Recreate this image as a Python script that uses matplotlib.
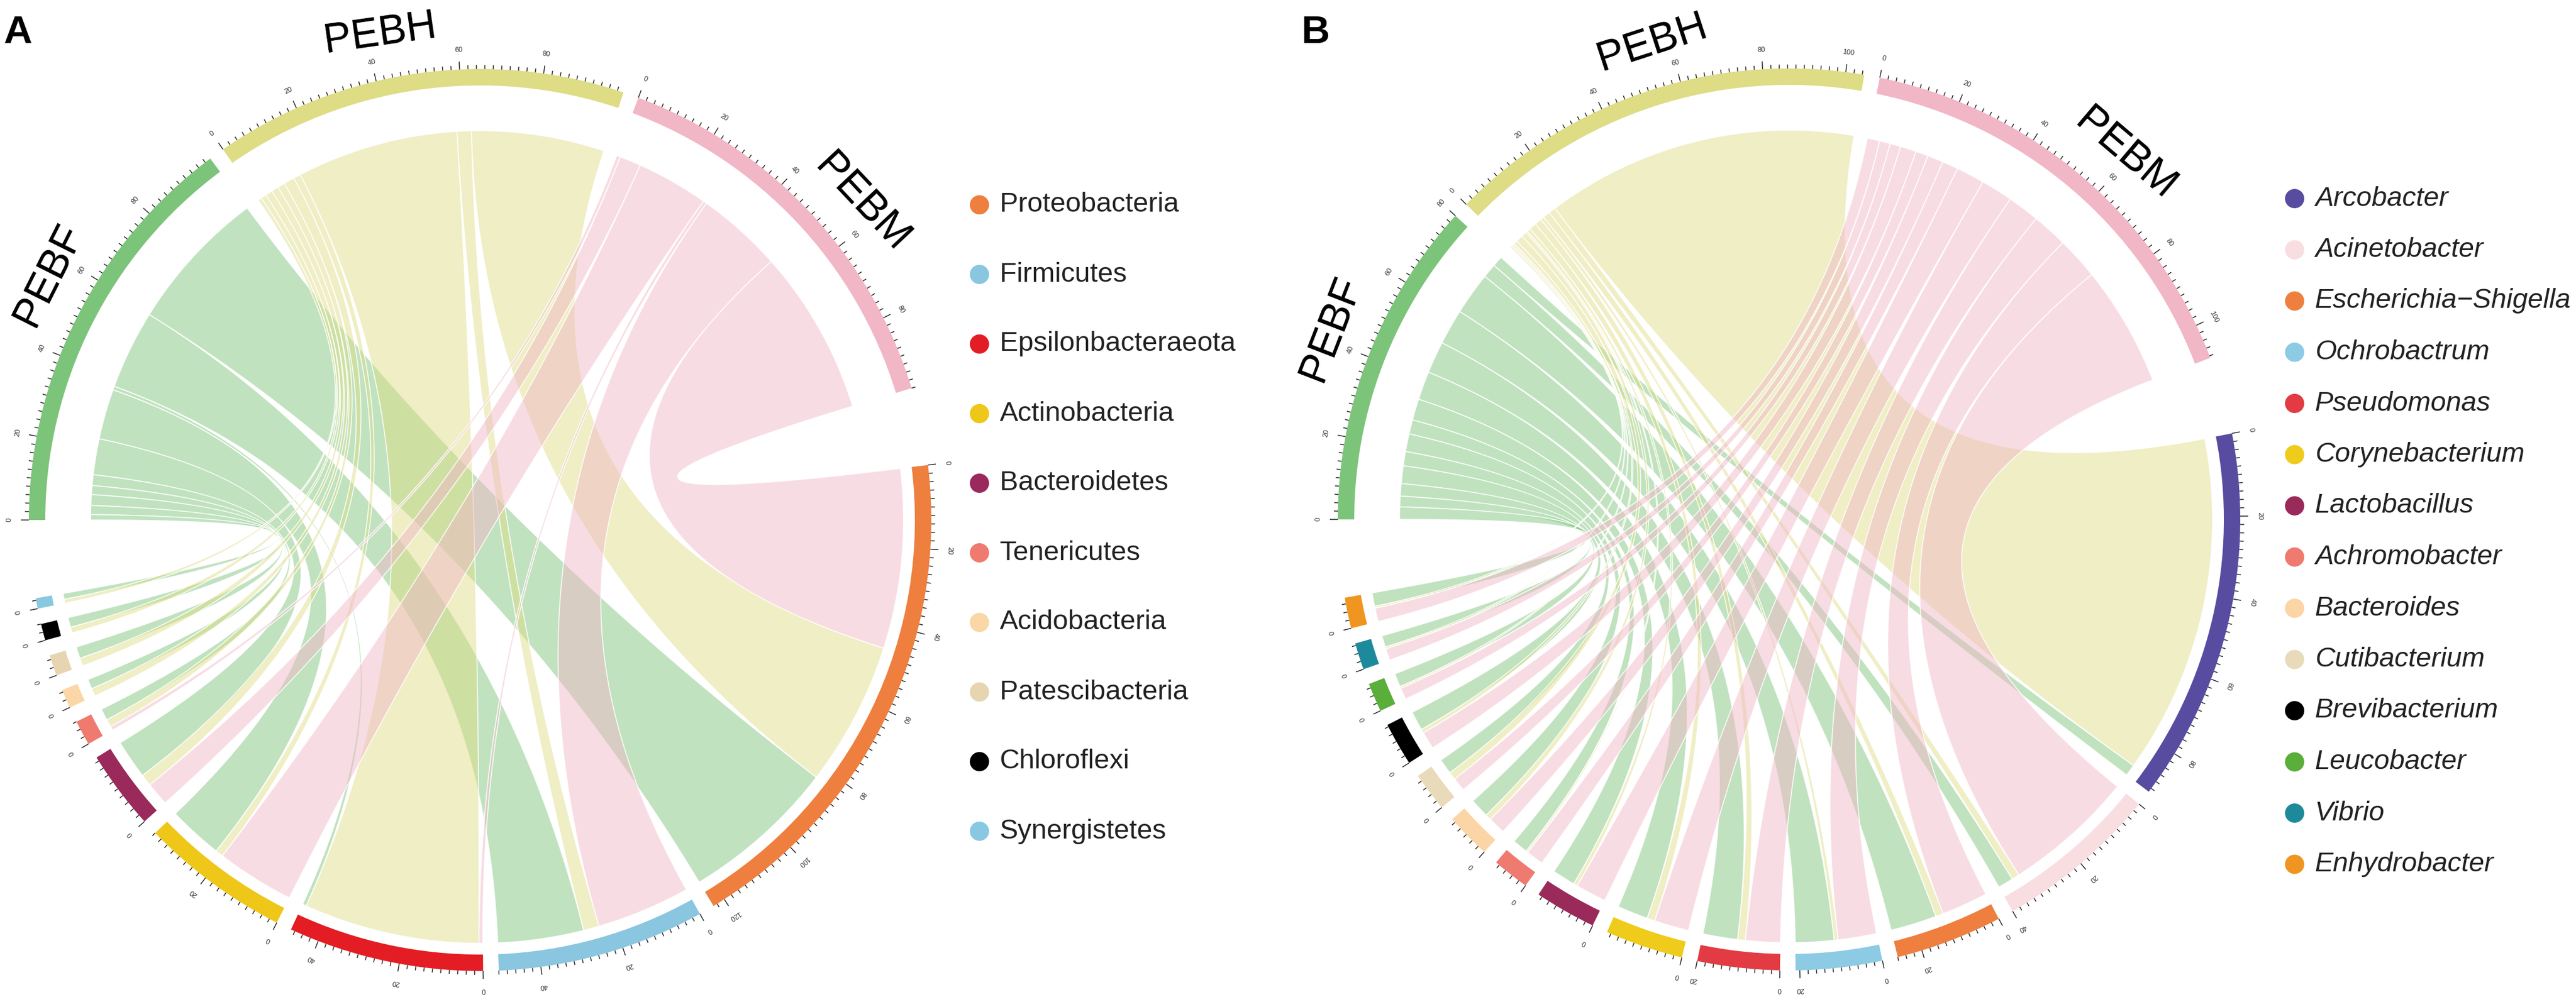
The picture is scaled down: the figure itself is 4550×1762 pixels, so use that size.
import numpy as np
import matplotlib
matplotlib.use("Agg")
import matplotlib.pyplot as plt
from matplotlib.patches import Wedge, Polygon
from matplotlib.collections import LineCollection
from matplotlib.colors import to_rgba

plt.rcParams['font.family'] = ['Liberation Sans', 'DejaVu Sans']

# ---- data (relative abundance) ----
samples = ['PEBF', 'PEBH', 'PEBM']
sample_colors = ['#7cc47a', '#dedc84', '#f1b7c6']

phyla = ['Proteobacteria', 'Firmicutes', 'Epsilonbacteraeota', 'Actinobacteria',
         'Bacteroidetes', 'Tenericutes', 'Acidobacteria', 'Patescibacteria',
         'Chloroflexi', 'Synergistetes']
phyla_colors = ['#ee7f3f', '#8ac6df', '#e31d23', '#efc718', '#992a5b',
                '#ef7a6f', '#fbd6a6', '#e7d5b1', '#000000', '#88c8e0']
phyla_pebf = [40, 22, 1, 14, 10, 3, 2.5, 3, 2.5, 1.5]
phyla_pebh = [37, 4, 45, 2, 3, 2, 2, 2, 1.5, 1]
phyla_pebm = [46, 24, 1, 20, 6, 1, 0, 0, 0, 0]

genera = ['Arcobacter', 'Acinetobacter', 'Escherichia\u2212Shigella', 'Ochrobactrum',
          'Pseudomonas', 'Corynebacterium', 'Lactobacillus', 'Achromobacter',
          'Bacteroides', 'Cutibacterium', 'Brevibacterium', 'Leucobacter',
          'Vibrio', 'Enhydrobacter']
genera_colors = ['#574ca0', '#f8dde1', '#ee7f3f', '#8ccbe3', '#e23b44', '#efcb1b',
                 '#9a2a5a', '#ef7a70', '#fbd5a5', '#e9dbba', '#000000', '#5aae3a',
                 '#1d8a9c', '#f0951f']
genera_pebf = [3, 4, 12, 10, 9, 8, 6, 4, 5, 4, 5, 3.5, 3, 3.5]
genera_pebh = [88, 2, 2, 1, 2, 2, 1, 0.5, 1.5, 2, 1, 0.5, 0.5, 0.5]
genera_pebm = [0, 34, 12, 10, 9, 9, 8, 4.5, 4.5, 3.5, 4.5, 3, 3, 3.5]

W, H = 4550, 1762
R_OUT, THICK = 797, 29
R_SAMPLE, R_TAXON = 688, 748


def arc_pts(cx, cy, r, a0, a1, n=80):
    t = np.radians(np.linspace(a0, a1, n))
    return np.column_stack([cx + r * np.cos(t), cy + r * np.sin(t)])


def bez(p0, p2, c, n=80):
    t = np.linspace(0, 1, n)[:, None]
    return (1 - t) ** 2 * p0 + 2 * (1 - t) * t * c + t ** 2 * p2


def ribbon(ax, cx, cy, s_rng, t_rng, color):
    c = np.array([cx, cy])
    a1 = arc_pts(cx, cy, R_SAMPLE, s_rng[0], s_rng[1])
    a2 = arc_pts(cx, cy, R_TAXON, t_rng[0], t_rng[1])
    pts = np.vstack([a1, bez(a1[-1], a2[0], c), a2, bez(a2[-1], a1[0], c)])
    ax.add_patch(Polygon(pts, closed=True, facecolor=to_rgba(color, 0.48),
                         edgecolor=(1, 1, 1, 0.85), linewidth=1.3, zorder=1))


def sector_axis(ax, cx, cy, a0, total, unit):
    segs = []
    for k in np.arange(0, total + 1e-6, 2):
        a = np.radians(a0 - k * unit)
        ln = 14 if k % 20 == 0 else 7
        segs.append([(cx + R_OUT * np.cos(a), cy + R_OUT * np.sin(a)),
                     (cx + (R_OUT + ln) * np.cos(a), cy + (R_OUT + ln) * np.sin(a))])
        if k % 20 == 0:
            rr = R_OUT + 34
            ax.text(cx + rr * np.cos(a), cy + rr * np.sin(a), f'{int(k)}',
                    fontsize=9, color='#333333', ha='center', va='center',
                    rotation=np.degrees(a) - 90, zorder=3)
    ax.add_collection(LineCollection(segs, colors='#222222', linewidths=1.1, zorder=3))


def chord(ax, cx, cy, taxa, colors, mat, label_shift, gap=2.0, big_gap=10.0):
    mat = np.array(mat, dtype=float)
    s_tot = mat.sum(axis=1)
    t_tot = mat.sum(axis=0)
    n = len(taxa)
    unit = (360 - 2 * big_gap - (n + 1) * gap) / (s_tot.sum() + t_tot.sum())

    ang = 180.0
    s_rng = []
    for i, v in enumerate(s_tot):
        s_rng.append((ang, ang - v * unit))
        ang -= v * unit + (gap if i < 2 else big_gap)
    t_rng = []
    for j, v in enumerate(t_tot):
        t_rng.append((ang, ang - v * unit))
        ang -= v * unit + gap

    # link positions: nearest partner last on sample side, first on taxon side
    s_pos, t_pos = {}, {}
    for i in range(3):
        a = s_rng[i][0]
        for j in reversed(range(n)):
            w = mat[i, j] * unit
            s_pos[i, j] = (a, a - w)
            a -= w
    for j in range(n):
        a = t_rng[j][0]
        for i in reversed(range(3)):
            w = mat[i, j] * unit
            t_pos[i, j] = (a, a - w)
            a -= w

    for i in range(3):
        for j in range(n):
            if mat[i, j] > 0:
                ribbon(ax, cx, cy, s_pos[i, j], t_pos[i, j], sample_colors[i])

    for (a0, a1), col, tot in zip(s_rng + t_rng, sample_colors + colors,
                                  list(s_tot) + list(t_tot)):
        ax.add_patch(Wedge((cx, cy), R_OUT, a1, a0, width=THICK,
                           facecolor=col, edgecolor='none', zorder=2))
        sector_axis(ax, cx, cy, a0, tot, unit)

    for (a0, a1), name, sh in zip(s_rng, samples, label_shift):
        mid = (a0 + a1) / 2
        pos = np.radians(mid + sh)
        rr = R_OUT + 80
        ax.text(cx + rr * np.cos(pos), cy + rr * np.sin(pos), name, fontsize=53,
                ha='center', va='center', rotation=mid - 90, zorder=3)


def legend(ax, x, y0, step, names, colors, italic=False):
    for k, (nm, col) in enumerate(zip(names, colors)):
        y = H - (y0 + k * step)
        ax.scatter([x], [y], s=600, color=col, edgecolors='none', zorder=3)
        ax.text(x + 36, y, nm, fontsize=35, va='center', ha='left',
                style='italic' if italic else 'normal', color='#222222')


fig = plt.figure(figsize=(W / 100, H / 100), dpi=100)
ax = fig.add_axes([0, 0, 1, 1])
ax.set_xlim(0, W)
ax.set_ylim(0, H)
ax.set_aspect('equal')
ax.axis('off')

chord(ax, 848, H - 919, phyla, phyla_colors, [phyla_pebf, phyla_pebh, phyla_pebm],
      label_shift=[-3.0, 3.5, -3.5])
chord(ax, 3160, H - 918, genera, genera_colors, [genera_pebf, genera_pebh, genera_pebm],
      label_shift=[-1.5, -2.0, -2.3])

legend(ax, 1730, 362, 123, phyla, phyla_colors)
legend(ax, 4053, 351, 90.5, genera, genera_colors, italic=True)

ax.text(6, H - 26, 'A', fontsize=50, fontweight='bold', va='top', ha='left')
ax.text(2298, H - 26, 'B', fontsize=50, fontweight='bold', va='top', ha='left')

fig.savefig('out.png', dpi=100)
